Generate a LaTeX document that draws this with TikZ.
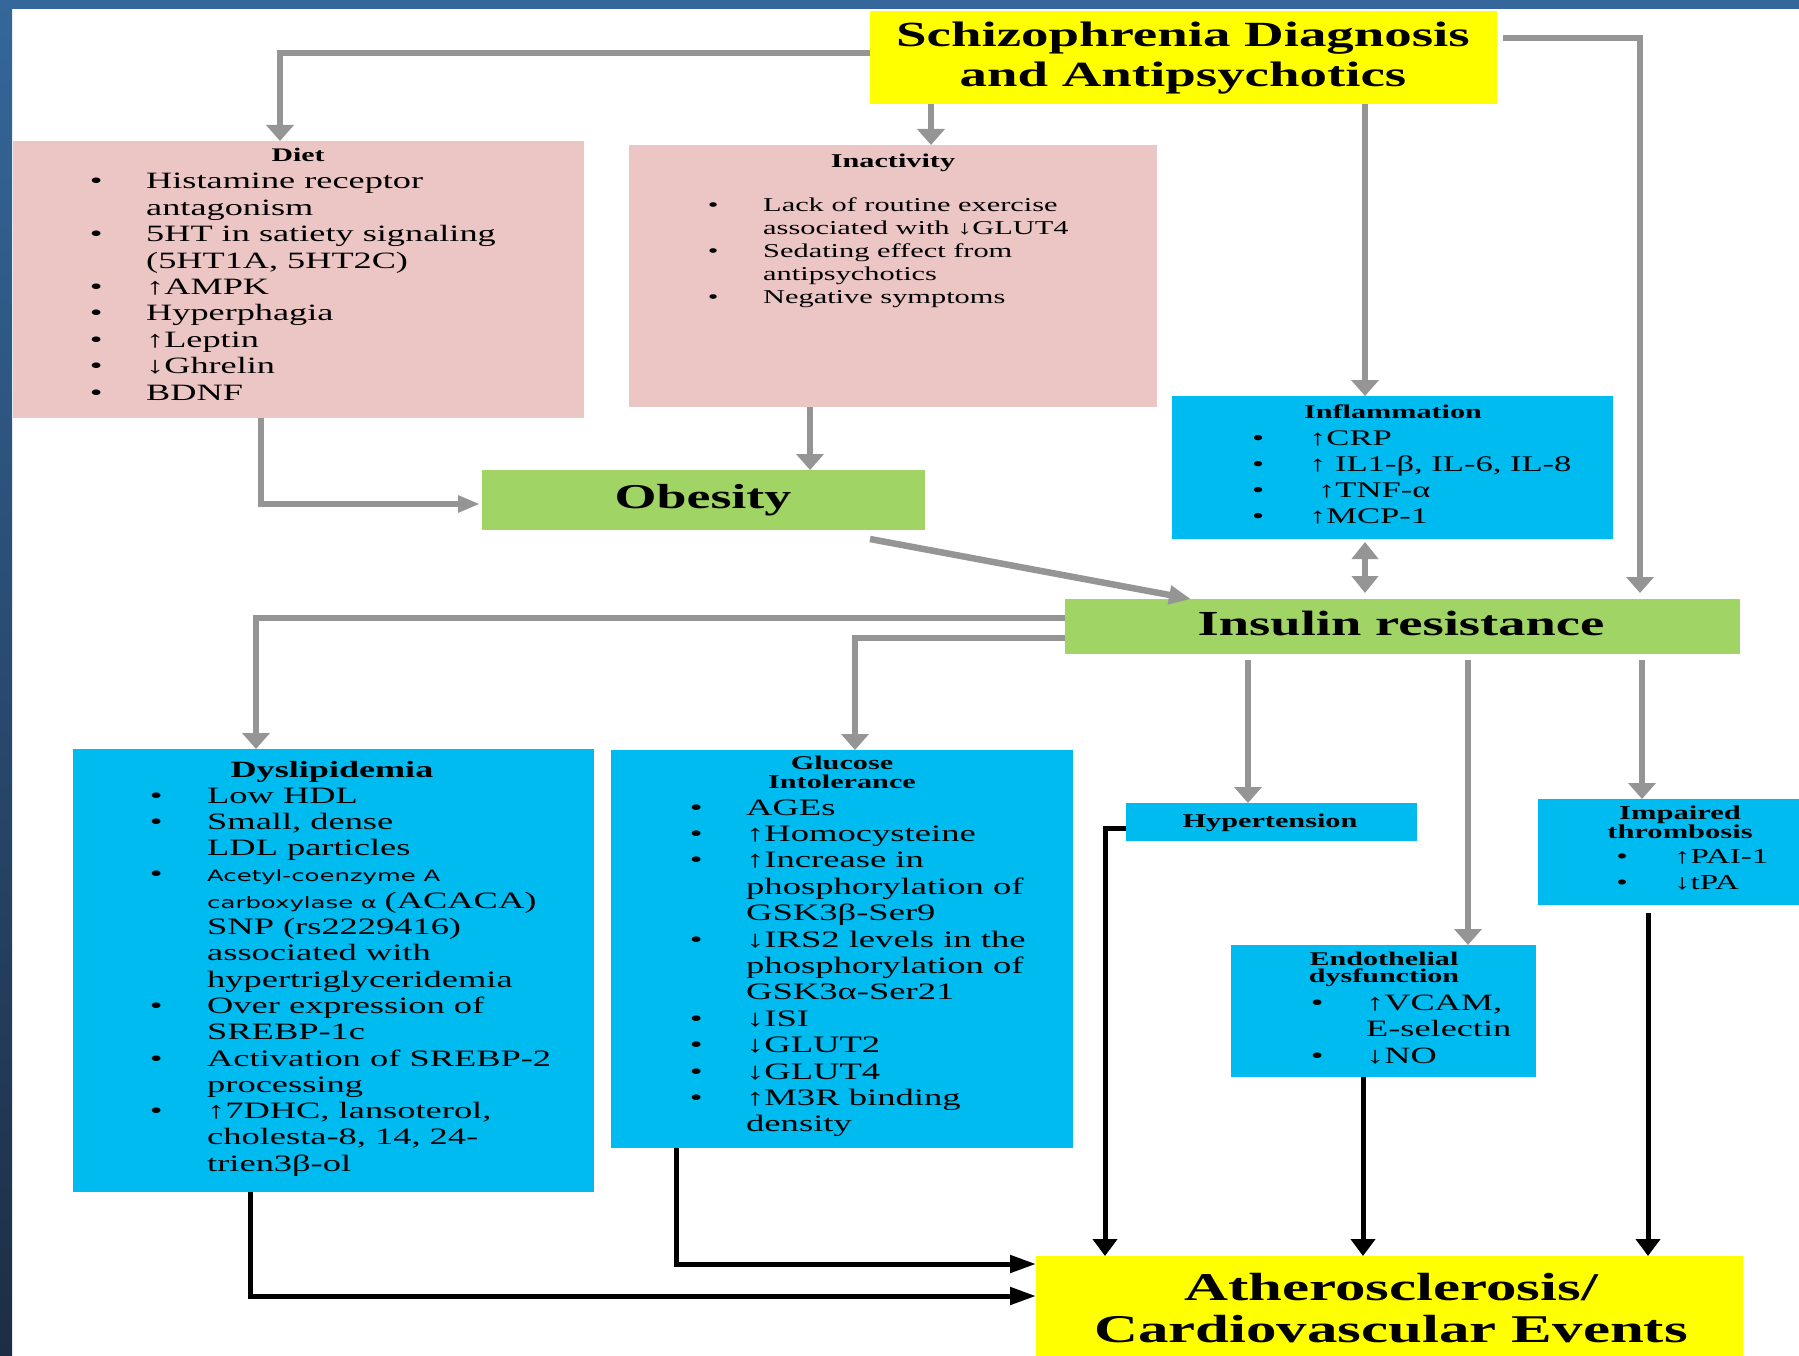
\documentclass[tikz,border=0pt]{standalone}
\usepackage{fontspec}
\setmainfont{Liberation Serif}[FakeStretch=1.55]
\newfontfamily\sansA{DejaVu Sans}[FakeStretch=1.55]
\usetikzlibrary{arrows.meta,fit}
\definecolor{pinkc}{HTML}{ECC5C5}
\definecolor{bluec}{HTML}{00BBF0}
\definecolor{greenc}{HTML}{A0D566}
\definecolor{yellowc}{HTML}{FFFF00}
\definecolor{greyc}{HTML}{959595}
\definecolor{bandA}{HTML}{35679A}
\definecolor{bandB}{HTML}{1C2E45}
\newdimen\bw
\newcommand\bi[1]{\hbox{\hbox to \bw{\textbullet\hfil}#1}}
\newcommand\ci[1]{\hbox{\hskip\bw #1}}
\newcommand\blist[3]{\vtop{\bw=#2\relax\baselineskip=#1\relax\lineskiplimit=-\maxdimen\lineskip=0pt #3}}
\newcommand\clines[2]{\vtop{\baselineskip=#1\relax\lineskiplimit=-\maxdimen\lineskip=0pt\halign{\hfil##\hfil\cr#2\crcr}}}
\newcommand\sfs[1]{{\sansA\fontsize{15.7}{18}\selectfont #1}}
\newcommand\upa{↑}
\newcommand\dna{↓}
\tikzset{
  box/.style={inner sep=0pt, outer sep=0pt, draw=none},
  lst/.style={inner sep=0pt, anchor=base west},
  hdn/.style={inner sep=0pt, anchor=base},
  garr/.style={draw=greyc, line width=6.5pt},
  barr/.style={draw=black, line width=5pt},
  gv/.style={-{Triangle[length=16pt,width=27pt]}},
  gh/.style={-{Triangle[length=22pt,width=16pt]}},
  gd/.style={-{Triangle[length=22pt,width=18pt]}},
  gvv/.style={{Triangle[length=17pt,width=26pt]}-{Triangle[length=17pt,width=26pt]}},
  bv/.style={-{Triangle[length=17pt,width=24pt]}},
  bh/.style={-{Triangle[length=26pt,width=17pt]}}
}
\begin{document}
\begin{tikzpicture}[x=1pt,y=-1pt]
\useasboundingbox (0,0) rectangle (1799,1356);
\fill[white] (0,0) rectangle (1799,1356);
\shade[top color=bandA, bottom color=bandB] (0,0) rectangle (12,1356);
\fill[bandA] (0,0) rectangle (1799,9);

% boxes
\node[box, fill=yellowc, fit={(870,11)(1497,104)}] (title) {};
\node[box, fill=pinkc, fit={(13,141)(584,418)}] (diet) {};
\node[box, fill=pinkc, fit={(629,145)(1157,407)}] (inact) {};
\node[box, fill=bluec, fit={(1172,396)(1613,539)}] (infl) {};
\node[box, fill=greenc, fit={(482,470)(925,530)}] (obes) {};
\node[box, fill=greenc, fit={(1065,599)(1740,654)}] (insulin) {};
\node[box, fill=bluec, fit={(73,749)(594,1192)}] (dysl) {};
\node[box, fill=bluec, fit={(611,750)(1073,1148)}] (gluc) {};
\node[box, fill=bluec, fit={(1126,803)(1417,841)}] (hyper) {};
\node[box, fill=bluec, fit={(1231,945)(1536,1077)}] (endo) {};
\node[box, fill=bluec, fit={(1538,799)(1799,905)}] (impair) {};
\node[box, fill=yellowc, fit={(1036,1256)(1743,1356)}] (ather) {};

% texts
\node[hdn, font=\bfseries\fontsize{35.4}{40}\selectfont] (titleT) at (1183,47)
  {\clines{40pt}{Schizophrenia Diagnosis\cr and Antipsychotics\cr}};

\node[hdn, font=\bfseries\fontsize{19.2}{22}\selectfont] (dietT) at (298,162) {Diet};
\node[lst, font=\fontsize{23.4}{26.4}\selectfont] (dietL) at (89.7,189) {\blist{26.4pt}{56.3pt}{%
  \bi{Histamine receptor}\ci{antagonism}%
  \bi{5HT in satiety signaling}\ci{(5HT1A, 5HT2C)}%
  \bi{\upa AMPK}\bi{Hyperphagia}\bi{\upa Leptin}\bi{\dna Ghrelin}\bi{BDNF}}};

\node[hdn, font=\bfseries\fontsize{19.5}{22}\selectfont] (inactT) at (893,168) {Inactivity};
\node[lst, font=\fontsize{19.6}{23}\selectfont] (inactL) at (707.7,212) {\blist{23pt}{55.3pt}{%
  \bi{Lack of routine exercise}\ci{associated with \dna GLUT4}%
  \bi{Sedating effect from}\ci{antipsychotics}%
  \bi{Negative symptoms}}};

\node[hdn, font=\bfseries\fontsize{19.5}{22}\selectfont] (inflT) at (1393,418) {Inflammation};
\node[lst, font=\fontsize{22.3}{26}\selectfont] (inflL) at (1252,445) {\blist{26pt}{57pt}{%
  \bi{\upa CRP}\bi{\upa\ IL1-β, IL-6, IL-8}\bi{\kern9pt\upa TNF-α}\bi{\upa MCP-1}}};

\node[hdn, font=\bfseries\fontsize{34.8}{40}\selectfont] (obesT) at (703,508) {Obesity};
\node[hdn, font=\bfseries\fontsize{35.2}{40}\selectfont] (insT) at (1401,635) {Insulin resistance};

\node[hdn, font=\bfseries\fontsize{23.3}{26}\selectfont] (dyslT) at (332,777) {Dyslipidemia};
\node[lst, font=\fontsize{23.5}{26.3}\selectfont] (dyslL) at (149.6,803) {\blist{26.3pt}{57.4pt}{%
  \bi{Low HDL}\bi{Small, dense}\ci{LDL particles}%
  \bi{\sfs{Acetyl-coenzyme A}}\ci{\sfs{carboxylase α }(ACACA)}%
  \ci{SNP (rs2229416)}\ci{associated with}\ci{hypertriglyceridemia}%
  \bi{Over expression of}\ci{SREBP-1c}%
  \bi{Activation of SREBP-2}\ci{processing}%
  \bi{\upa 7DHC, lansoterol,}\ci{cholesta-8, 14, 24-}\ci{trien3β-ol}}};

\node[hdn, font=\bfseries\fontsize{19.5}{19}\selectfont] (glucT) at (842,769)
  {\clines{19pt}{Glucose\cr Intolerance\cr}};
\node[lst, font=\fontsize{23.6}{26.4}\selectfont] (glucL) at (689.6,815) {\blist{26.4pt}{56.4pt}{%
  \bi{AGEs}\bi{\upa Homocysteine}%
  \bi{\upa Increase in}\ci{phosphorylation of}\ci{GSK3β-Ser9}%
  \bi{\dna IRS2 levels in the}\ci{phosphorylation of}\ci{GSK3α-Ser21}%
  \bi{\dna ISI}\bi{\dna GLUT2}\bi{\dna GLUT4}\bi{\upa M3R binding}\ci{density}}};

\node[hdn, font=\bfseries\fontsize{19.5}{22}\selectfont] (hyperT) at (1270,827) {Hypertension};

\node[hdn, font=\bfseries\fontsize{19.4}{17}\selectfont] (endoT) at (1384,965)
  {\clines{17pt}{Endothelial\cr dysfunction\cr}};
\node[lst, font=\fontsize{23.4}{26.5}\selectfont] (endoL) at (1310.6,1010) {\blist{26.5pt}{55.4pt}{%
  \bi{\upa VCAM,}\ci{E-selectin}\bi{\dna NO}}};

\node[hdn, font=\bfseries\fontsize{19.7}{19}\selectfont] (impT) at (1680,819)
  {\clines{19pt}{Impaired\cr thrombosis\cr}};
\node[lst, font=\fontsize{21.3}{26}\selectfont] (impL) at (1616.2,863) {\blist{26pt}{57.8pt}{%
  \bi{\upa PAI-1}\bi{\dna tPA}}};

\node[hdn, font=\bfseries\fontsize{39.3}{42}\selectfont] (athT) at (1391,1300)
  {\clines{42pt}{Atherosclerosis/\cr Cardiovascular Events\cr}};

% grey connectors
\draw[garr,gv] ([yshift=4.5pt]title.west) -| ([xshift=267pt]diet.north west);
\draw[garr,gv] ([xshift=61pt]title.south west) -- ([xshift=302pt]inact.north west);
\draw[garr,gv] ([xshift=495pt]title.south west) -- ([xshift=193pt]infl.north west);
\draw[garr,gv,shorten >=6pt] ([yshift=19.5pt,xshift=6pt]title.east) -| ([xshift=575pt]insulin.north west);
\draw[garr,gh] ([xshift=248pt]diet.south west) |- ([yshift=-4pt,xshift=-2pt]obes.west);
\draw[garr,gv] ([xshift=181pt]inact.south west) -- ([xshift=328pt]obes.north west);
\draw[garr,gd] ([xshift=388pt,yshift=-9pt]obes.south west) -- ([xshift=126pt]insulin.north west);
\draw[garr,gvv] ([xshift=193pt,yshift=-3pt]infl.south west) -- ([xshift=300pt,yshift=6pt]insulin.north west);
\draw[garr,gv] ([yshift=8.5pt]insulin.west) -| ([xshift=183pt]dysl.north west);
\draw[garr,gv] ([yshift=-11.5pt]insulin.west) -| ([xshift=244pt]gluc.north west);
\draw[garr,gv] ([xshift=183pt,yshift=-6pt]insulin.south west) -- ([xshift=122pt]hyper.north west);
\draw[garr,gv] ([xshift=403pt,yshift=-6pt]insulin.south west) -- ([xshift=237pt]endo.north west);
\draw[garr,gv] ([xshift=577pt,yshift=-6pt]insulin.south west) -- ([xshift=104pt]impair.north west);

% black connectors
\draw[barr,bv] ([yshift=-6pt]hyper.west) -| ([xshift=69pt]ather.north west);
\draw[barr,bv] ([xshift=132pt]endo.south west) -- ([xshift=327pt]ather.north west);
\draw[barr,bv] ([xshift=110pt,yshift=-8pt]impair.south west) -- ([xshift=612pt]ather.north west);
\draw[barr,bh] ([xshift=65pt]gluc.south west) |- ([yshift=42pt]ather.west);
\draw[barr,bh] ([xshift=177pt]dysl.south west) |- ([yshift=10pt]ather.west);
\end{tikzpicture}
\end{document}
